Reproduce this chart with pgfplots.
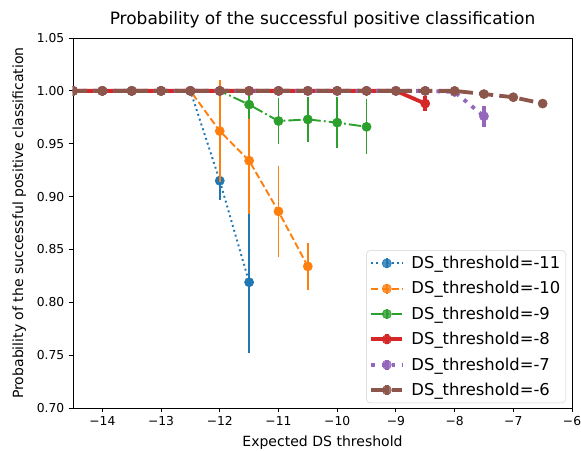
\documentclass[border=0pt]{standalone}
\usepackage{fontspec}
\setmainfont{DejaVu Sans}
\usepackage{pgfplots}
\pgfplotsset{compat=1.18}
\definecolor{c0}{HTML}{1F77B4}
\definecolor{c1}{HTML}{FF7F0E}
\definecolor{c2}{HTML}{2CA02C}
\definecolor{c3}{HTML}{D62728}
\definecolor{c4}{HTML}{9467BD}
\definecolor{c5}{HTML}{8C564B}
\pgfplotstableread{
x y e
-14.5 1 0
-14 1 0
-13.5 1 0
-13 1 0
-12.5 1 0
-12 0.915 0.018
-11.5 0.819 0.067
}\tA
\pgfplotstableread{
x y e
-14.5 1 0
-14 1 0
-13.5 1 0
-13 1 0
-12.5 1 0
-12 0.962 0.048
-11.5 0.934 0.050
-11 0.886 0.043
-10.5 0.834 0.022
}\tB
\pgfplotstableread{
x y e
-14.5 1 0
-14 1 0
-13.5 1 0
-13 1 0
-12.5 1 0
-12 1 0
-11.5 0.987 0.014
-11 0.9715 0.022
-10.5 0.973 0.021
-10 0.970 0.024
-9.5 0.966 0.026
}\tC
\pgfplotstableread{
x y e
-14.5 1 0
-14 1 0
-13.5 1 0
-13 1 0
-12.5 1 0
-12 1 0
-11.5 1 0
-11 1 0
-10.5 1 0
-10 1 0
-9.5 1 0
-9 1 0
-8.5 0.988 0.007
}\tD
\pgfplotstableread{
x y e
-14.5 1 0
-14 1 0
-13.5 1 0
-13 1 0
-12.5 1 0
-12 1 0
-11.5 1 0
-11 1 0
-10.5 1 0
-10 1 0
-9.5 1 0
-9 1 0
-8.5 1 0
-8 0.999 0.001
-7.5 0.976 0.010
}\tE
\pgfplotstableread{
x y e
-14.5 1 0
-14 1 0
-13.5 1 0
-13 1 0
-12.5 1 0
-12 1 0
-11.5 1 0
-11 1 0
-10.5 1 0
-10 1 0
-9.5 1 0
-9 1 0
-8.5 1 0
-8 1 0
-7.5 0.997 0.002
-7 0.994 0.002
-6.5 0.988 0.002
}\tF
\begin{document}
\begin{tikzpicture}
\begin{axis}[
 scale only axis, width=405.4pt, height=300.6pt,
 xmin=-14.5, xmax=-6, ymin=0.70, ymax=1.05,
 xtick={-14,-13,-12,-11,-10,-9,-8,-7,-6},
 xticklabels={−14,−13,−12,−11,−10,−9,−8,−7,−6},
 ytick={0.70,0.75,0.80,0.85,0.90,0.95,1.00,1.05},
 yticklabels={0.70,0.75,0.80,0.85,0.90,0.95,1.00,1.05},
 tick align=outside, xtick pos=bottom, ytick pos=left,
 major tick length=3.6pt,
 tick style={black, line width=0.65pt},
 axis line style={line width=0.65pt},
 ticklabel style={font=\fontsize{10}{12}\selectfont},
 title={Probability of the successful positive classification},
 title style={at={(axis description cs:0.5,1.0161)}, anchor=base, yshift=0pt, font=\fontsize{13.8}{16}\selectfont},
 xlabel={Expected DS threshold},
 xlabel style={at={(axis description cs:0.5,-0.1028)}, anchor=base, font=\fontsize{11.4}{13}\selectfont},
 ylabel={Probability of the successful positive classification},
 ylabel style={at={(axis description cs:-0.1001,0.5)}, anchor=base, font=\fontsize{11.4}{13}\selectfont},
 clip marker paths=true,
 legend cell align=left,
 legend style={at={(axis description cs:0.988,0.0135)}, anchor=south east,
   font=\fontsize{13.3}{15}\selectfont, draw=black!18, rounded corners=3pt,
   fill=white, fill opacity=0.8, text opacity=1, row sep=5pt, column sep=4pt, inner sep=2.5pt},
 legend image code/.code={
   \draw[#1] (0pt,0pt) -- (25pt,0pt);
   \draw[#1,solid] (12.5pt,-4pt) -- (12.5pt,4pt);
   \draw[#1] plot coordinates {(12.5pt,0pt)};
 },
]
\addplot[color=c0, line width=1.55pt, dash pattern=on 1.55pt off 2.56pt,
  mark=*, mark size=3.7pt, mark options={solid, fill=c0, draw=c0, line width=0.5pt},
  error bars/.cd, y dir=both, y explicit, error mark=none,
  error bar style={line width=1.55pt, solid}]
  table[x=x, y=y, y error=e]{\tA};
\addlegendentry{DS\_threshold=-11}
\addplot[color=c1, line width=1.55pt, dash pattern=on 5.7pt off 2.5pt,
  mark=*, mark size=3.7pt, mark options={solid, fill=c1, draw=c1, line width=0.5pt},
  error bars/.cd, y dir=both, y explicit, error mark=none,
  error bar style={line width=1.55pt, solid}]
  table[x=x, y=y, y error=e]{\tB};
\addlegendentry{DS\_threshold=-10}
\addplot[color=c2, line width=1.55pt, dash pattern=on 9.9pt off 2.5pt on 1.55pt off 2.5pt,
  mark=*, mark size=3.7pt, mark options={solid, fill=c2, draw=c2, line width=0.5pt},
  error bars/.cd, y dir=both, y explicit, error mark=none,
  error bar style={line width=1.55pt, solid}]
  table[x=x, y=y, y error=e]{\tC};
\addlegendentry{DS\_threshold=-9}
\addplot[color=c3, line width=3.1pt, solid,
  mark=*, mark size=3.7pt, mark options={solid, fill=c3, draw=c3, line width=0.5pt},
  error bars/.cd, y dir=both, y explicit, error mark=none,
  error bar style={line width=3.1pt, solid}]
  table[x=x, y=y, y error=e]{\tD};
\addlegendentry{DS\_threshold=-8}
\addplot[color=c4, line width=3.1pt, dash pattern=on 3.1pt off 5.1pt,
  mark=*, mark size=3.7pt, mark options={solid, fill=c4, draw=c4, line width=0.5pt},
  error bars/.cd, y dir=both, y explicit, error mark=none,
  error bar style={line width=3.1pt, solid}]
  table[x=x, y=y, y error=e]{\tE};
\addlegendentry{DS\_threshold=-7}
\addplot[color=c5, line width=3.1pt, dash pattern=on 11.5pt off 5pt,
  mark=*, mark size=3.7pt, mark options={solid, fill=c5, draw=c5, line width=0.5pt},
  error bars/.cd, y dir=both, y explicit, error mark=none,
  error bar style={line width=3.1pt, solid}]
  table[x=x, y=y, y error=e]{\tF};
\addlegendentry{DS\_threshold=-6}
\end{axis}
\pgfresetboundingbox
\path[use as bounding box] ([shift={(-59.3pt,-34.1pt)}]current axis.south west) rectangle ([shift={(7.3pt,30.9pt)}]current axis.north east);
\end{tikzpicture}
\end{document}
